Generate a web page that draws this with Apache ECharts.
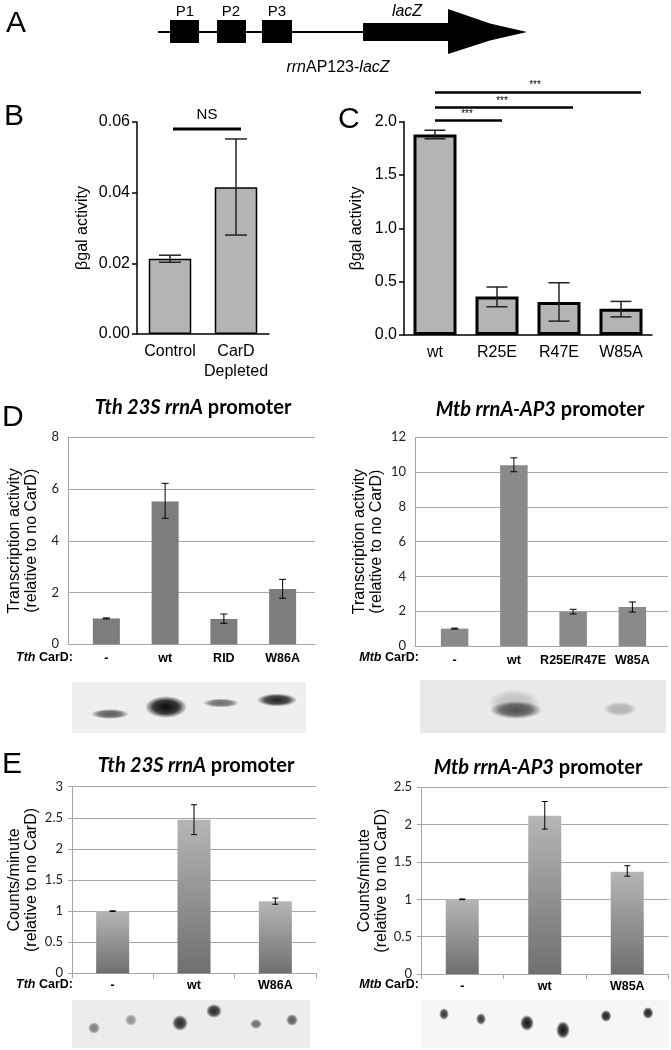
<!DOCTYPE html>
<html><head><meta charset="utf-8">
<script src="https://cdn.jsdelivr.net/npm/echarts@6/dist/echarts.min.js"></script>
<style>html,body{margin:0;padding:0;background:#fff}#c{width:671px;height:1050px}</style>
</head><body><div id="c"></div>
<script>
// ---------- DATA ----------
// Panel B
const bCats = ['Control', 'CarD\nDepleted'];
const bVals = [0.0213, 0.0415];
const bLo = [0.0203, 0.0280];
const bHi = [0.0223, 0.0552];
const bAxis = [0, 0.06, 0.02];
// Panel C
const cCats = ['wt', 'R25E', 'R47E', 'W85A'];
const cVals = [1.88, 0.36, 0.31, 0.245];
const cLo = [1.84, 0.265, 0.13, 0.17];
const cHi = [1.92, 0.45, 0.49, 0.315];
const cAxis = [0, 2, 0.5];
// Panel D left (Tth)
const dlCats = ['-', 'wt', 'RID', 'W86A'];
const dlVals = [1.0, 5.52, 0.98, 2.14];
const dlLo = [0.98, 4.87, 0.81, 1.78];
const dlHi = [1.02, 6.22, 1.17, 2.51];
const dlAxis = [0, 8, 2];
// Panel D right (Mtb)
const drCats = ['-', 'wt', 'R25E/R47E', 'W85A'];
const drVals = [1.0, 10.4, 1.97, 2.24];
const drLo = [0.97, 10.02, 1.84, 1.95];
const drHi = [1.03, 10.82, 2.11, 2.53];
const drAxis = [0, 12, 2];
// Panel E left (Tth)
const elCats = ['-', 'wt', 'W86A'];
const elVals = [1.0, 2.47, 1.16];
const elLo = [0.995, 2.23, 1.11];
const elHi = [1.005, 2.71, 1.21];
const elAxis = [0, 3, 0.5];
// Panel E right (Mtb)
const erCats = ['-', 'wt', 'W85A'];
const erVals = [1.0, 2.12, 1.37];
const erLo = [0.995, 1.94, 1.31];
const erHi = [1.005, 2.31, 1.45];
const erAxis = [0, 2.5, 0.5];

// ---------- HELPERS ----------
const ARIAL = '"Liberation Sans", Arial, sans-serif';
const CAL = 'Lato, "Open Sans", sans-serif';

function errSeries(idx, lo, hi, capW, color, lw) {
  return {
    type: 'custom', xAxisIndex: idx, yAxisIndex: idx, z: 10, silent: true,
    data: lo.map((l, i) => [i, l, hi[i]]),
    encode: { x: 0, y: [1, 2] },
    renderItem(params, api) {
      const x = api.value(0);
      const p1 = api.coord([x, api.value(1)]);
      const p2 = api.coord([x, api.value(2)]);
      const h = capW / 2;
      const st = { stroke: color, lineWidth: lw };
      return { type: 'group', children: [
        { type: 'line', shape: { x1: p1[0], y1: p1[1], x2: p2[0], y2: p2[1] }, style: st },
        { type: 'line', shape: { x1: p1[0] - h, y1: p1[1], x2: p1[0] + h, y2: p1[1] }, style: st },
        { type: 'line', shape: { x1: p2[0] - h, y1: p2[1], x2: p2[0] + h, y2: p2[1] }, style: st }
      ]};
    }
  };
}
const gridGray = '#a6a6a6';
const gradBar = { type: 'linear', x: 0, y: 0, x2: 0, y2: 1,
  colorStops: [{ offset: 0, color: '#b6b6b6' }, { offset: 1, color: '#6f6f6f' }] };

function blob(cx, cy, rx, ry, color, alpha) {
  return {
    type: 'circle', x: cx, y: cy, scaleX: rx / 10, scaleY: ry / 10,
    shape: { cx: 0, cy: 0, r: 10 }, silent: true,
    style: { fill: { type: 'radial', x: 0.5, y: 0.5, r: 0.5, colorStops: [
      { offset: 0, color: 'rgba(' + color + ',' + alpha + ')' },
      { offset: 0.6, color: 'rgba(' + color + ',' + (alpha * 0.8) + ')' },
      { offset: 1, color: 'rgba(' + color + ',0)' }] } }
  };
}
function txt(x, y, text, font, opts) {
  return Object.assign({ type: 'text', x: x, y: y, silent: true,
    style: Object.assign({ text: text, font: font, fill: '#000', textAlign: 'center', textVerticalAlign: 'middle' }, opts || {}) });
}
function hline(x1, x2, y, w) {
  return { type: 'line', silent: true, shape: { x1: x1, y1: y, x2: x2, y2: y }, style: { stroke: '#000', lineWidth: w } };
}

const grids = [
  { left: 137, top: 122, width: 132, height: 212 },        // 0 B
  { left: 404, top: 121.7, width: 248, height: 213.3 },    // 1 C
  { left: 68, top: 437.3, width: 247, height: 207 },       // 2 D-left bg
  { left: 77, top: 437.3, width: 235, height: 207 },       // 3 D-left fg
  { left: 415, top: 437.3, width: 253, height: 208.7 },    // 4 D-right bg
  { left: 425, top: 437.3, width: 237, height: 208.7 },    // 5 D-right fg
  { left: 72, top: 786.7, width: 244, height: 186.6 },     // 6 E-left
  { left: 421, top: 787.3, width: 247.5, height: 186.7 }   // 7 E-right
];

const boldCat = { fontFamily: ARIAL, fontWeight: 'bold', fontSize: 12.5, color: '#000', interval: 0 };
const yName2 = (t) => ({ name: t, nameLocation: 'middle', nameRotate: 90,
  nameTextStyle: { fontFamily: ARIAL, fontSize: 16, color: '#000', lineHeight: 17 } });

const xAxes = [
  { gridIndex: 0, type: 'category', data: bCats, axisLine: { lineStyle: { color: '#000', width: 1.5 } },
    axisTick: { show: false }, axisLabel: { interval: 0, fontFamily: ARIAL, fontSize: 16, color: '#000', margin: 8, lineHeight: 20 } },
  { gridIndex: 1, type: 'category', data: cCats, axisLine: { lineStyle: { color: '#000', width: 1.5 } },
    axisTick: { alignWithLabel: true, length: 4, lineStyle: { color: '#000', width: 1.5 } },
    axisLabel: { interval: 0, fontFamily: ARIAL, fontSize: 16, color: '#000', margin: 10 } },
  { gridIndex: 2, type: 'value', min: 0, max: 1, axisLine: { show: true, lineStyle: { color: gridGray } },
    axisTick: { show: false }, axisLabel: { show: false }, splitLine: { show: false } },
  { gridIndex: 3, type: 'category', data: dlCats, axisLine: { show: false }, axisTick: { show: false },
    axisLabel: Object.assign({ margin: 8 }, boldCat) },
  { gridIndex: 4, type: 'value', min: 0, max: 1, axisLine: { show: true, lineStyle: { color: gridGray } },
    axisTick: { show: false }, axisLabel: { show: false }, splitLine: { show: false } },
  { gridIndex: 5, type: 'category', data: drCats, axisLine: { show: false }, axisTick: { show: false },
    axisLabel: Object.assign({ margin: 8 }, boldCat) },
  { gridIndex: 6, type: 'category', data: elCats, axisLine: { lineStyle: { color: gridGray } },
    axisTick: { show: true, length: 5, lineStyle: { color: gridGray } }, axisLabel: Object.assign({ margin: 6 }, boldCat) },
  { gridIndex: 7, type: 'category', data: erCats, axisLine: { lineStyle: { color: gridGray } },
    axisTick: { show: true, length: 5, lineStyle: { color: gridGray } }, axisLabel: Object.assign({ margin: 6 }, boldCat) }
];

const calLab = { fontFamily: CAL, fontSize: 13, color: '#222', margin: 9 };
const yAxes = [
  Object.assign({ gridIndex: 0, type: 'value', min: bAxis[0], max: bAxis[1], interval: bAxis[2],
    axisLine: { show: true, lineStyle: { color: '#000', width: 1.5 } },
    axisTick: { show: true, length: 5, lineStyle: { color: '#000', width: 1.5 } },
    axisLabel: { fontFamily: ARIAL, fontSize: 16, color: '#000', margin: 7, formatter: v => v.toFixed(2) },
    splitLine: { show: false }, nameGap: 46 }, yName2('βgal activity')),
  Object.assign({ gridIndex: 1, type: 'value', min: cAxis[0], max: cAxis[1], interval: cAxis[2],
    axisLine: { show: true, lineStyle: { color: '#000', width: 1.5 } },
    axisTick: { show: true, length: 5, lineStyle: { color: '#000', width: 1.5 } },
    axisLabel: { fontFamily: ARIAL, fontSize: 16, color: '#000', margin: 7, formatter: v => v.toFixed(1) },
    splitLine: { show: false }, nameGap: 39 }, yName2('βgal activity')),
  Object.assign({ gridIndex: 2, type: 'value', min: dlAxis[0], max: dlAxis[1], interval: dlAxis[2],
    axisLine: { show: true, lineStyle: { color: gridGray } }, axisTick: { show: false },
    axisLabel: calLab, splitLine: { lineStyle: { color: gridGray } }, nameGap: 28 },
    yName2('Transcription activity\n(relative to no CarD)')),
  { gridIndex: 3, type: 'value', min: dlAxis[0], max: dlAxis[1], interval: dlAxis[2], show: false, splitLine: { show: false } },
  Object.assign({ gridIndex: 4, type: 'value', min: drAxis[0], max: drAxis[1], interval: drAxis[2],
    axisLine: { show: true, lineStyle: { color: gridGray } }, axisTick: { show: false },
    axisLabel: calLab, splitLine: { lineStyle: { color: gridGray } }, nameGap: 30 },
    yName2('Transcription activity\n(relative to no CarD)')),
  { gridIndex: 5, type: 'value', min: drAxis[0], max: drAxis[1], interval: drAxis[2], show: false, splitLine: { show: false } },
  Object.assign({ gridIndex: 6, type: 'value', min: elAxis[0], max: elAxis[1], interval: elAxis[2],
    axisLine: { show: true, lineStyle: { color: gridGray } }, axisTick: { show: true, length: 4, lineStyle: { color: gridGray } },
    axisLabel: calLab, splitLine: { lineStyle: { color: gridGray } }, nameGap: 32 },
    yName2('Counts/minute\n(relative to no CarD)')),
  Object.assign({ gridIndex: 7, type: 'value', min: erAxis[0], max: erAxis[1], interval: erAxis[2],
    axisLine: { show: true, lineStyle: { color: gridGray } }, axisTick: { show: true, length: 4, lineStyle: { color: gridGray } },
    axisLabel: calLab, splitLine: { lineStyle: { color: gridGray } }, nameGap: 30 },
    yName2('Counts/minute\n(relative to no CarD)'))
];

const series = [
  { type: 'bar', xAxisIndex: 0, yAxisIndex: 0, data: bVals, barWidth: 42.5,
    itemStyle: { color: '#b4b4b4', borderColor: '#000', borderWidth: 1.5 } },
  errSeries(0, bLo, bHi, 22, '#222', 1.5),
  { type: 'bar', xAxisIndex: 1, yAxisIndex: 1, data: cVals, barWidth: 43,
    itemStyle: { color: '#b4b4b4', borderColor: '#000', borderWidth: 3 } },
  errSeries(1, cLo, cHi, 21, '#222', 1.5),
  { type: 'bar', xAxisIndex: 3, yAxisIndex: 3, data: dlVals, barWidth: 27, itemStyle: { color: '#7d7d7d' } },
  errSeries(3, dlLo, dlHi, 7, '#000', 1),
  { type: 'bar', xAxisIndex: 5, yAxisIndex: 5, data: drVals, barWidth: 27.5, itemStyle: { color: '#8a8a8a' } },
  errSeries(5, drLo, drHi, 7, '#000', 1),
  { type: 'bar', xAxisIndex: 6, yAxisIndex: 6, data: elVals, barWidth: 33, itemStyle: { color: gradBar } },
  errSeries(6, elLo, elHi, 6, '#000', 1),
  { type: 'bar', xAxisIndex: 7, yAxisIndex: 7, data: erVals, barWidth: 33, itemStyle: { color: gradBar } },
  errSeries(7, erLo, erHi, 6, '#000', 1)
];

// ---------- GRAPHICS (diagram, annotations, gel images) ----------
const g = [];
// Panel letters
[['A', 6, 24], ['B', 4, 117], ['C', 338, 120], ['D', 2, 418], ['E', 2, 765]].forEach(p =>
  g.push(txt(p[1], p[2], p[0], '30px ' + ARIAL, { textAlign: 'left' })));
// Panel A diagram
g.push({ type: 'line', silent: true, shape: { x1: 158, y1: 32, x2: 365, y2: 32 }, style: { stroke: '#000', lineWidth: 2 } });
[[170, 199], [217, 246], [262, 292]].forEach(r =>
  g.push({ type: 'rect', silent: true, shape: { x: r[0], y: 20, width: r[1] - r[0], height: 23 }, style: { fill: '#000' } }));
g.push({ type: 'rect', silent: true, shape: { x: 363, y: 23, width: 86, height: 18 }, style: { fill: '#000' } });
g.push({ type: 'polygon', silent: true, shape: { points: [[448, 9], [490, 23.5], [527, 32], [490, 40.5], [448, 54]] }, style: { fill: '#000' } });
[['P1', 185], ['P2', 231], ['P3', 277]].forEach(p => g.push(txt(p[1], 12, p[0], '15px ' + ARIAL)));
g.push(txt(407, 12, 'lacZ', 'italic 16px ' + ARIAL));
g.push({ type: 'text', x: 338, y: 68, silent: true, style: {
  text: '{i|rrn}{n|AP123-}{i|lacZ}', textAlign: 'center', textVerticalAlign: 'middle',
  rich: { i: { font: 'italic 16px ' + ARIAL, fill: '#000' }, n: { font: '16px ' + ARIAL, fill: '#000' } } } });
// Panel B annotation
g.push(hline(173, 241, 129, 3));
g.push(txt(207, 115, 'NS', '15px ' + ARIAL));
// Panel C annotations
g.push(hline(435, 641, 92.5, 2.5));
g.push(txt(535, 85.5, '***', '10px ' + ARIAL));
g.push(hline(435, 573, 107.5, 2.5));
g.push(txt(502, 101, '***', '10px ' + ARIAL));
g.push(hline(435, 502, 120.5, 2.5));
g.push(txt(467, 114.5, '***', '10px ' + ARIAL));
// Titles D and E
function title(x, y, it, rest) {
  g.push({ type: 'text', x: x, y: y, silent: true, style: {
    text: '{i|' + it + '}{b| ' + rest + '}', textAlign: 'center', textVerticalAlign: 'middle',
    rich: { i: { font: 'italic bold 20px ' + CAL, fill: '#000' }, b: { font: 'bold 20px ' + CAL, fill: '#000' } } } });
}
title(193, 408, 'Tth 23S rrnA', 'promoter');
title(540, 410, 'Mtb rrnA-AP3', 'promoter');
title(196, 766, 'Tth 23S rrnA', 'promoter');
title(538, 768, 'Mtb rrnA-AP3', 'promoter');
// Row labels
function rowLab(x, y, sp) {
  g.push({ type: 'text', x: x, y: y, silent: true, style: {
    text: '{i|' + sp + '}{b| CarD:}', textAlign: 'right', textVerticalAlign: 'middle',
    rich: { i: { font: 'italic bold 12.5px ' + ARIAL, fill: '#000' }, b: { font: 'bold 12.5px ' + ARIAL, fill: '#000' } } } });
}
rowLab(73, 658, 'Tth');
rowLab(419, 658, 'Mtb');
rowLab(73, 985, 'Tth');
rowLab(419, 985, 'Mtb');
// Gel D left
g.push({ type: 'rect', silent: true, shape: { x: 72, y: 682, width: 234, height: 51 }, style: { fill: '#efefef' } });
g.push(blob(110, 714, 19, 5, '55,55,55', 0.8));
g.push(blob(166, 707, 21, 11, '10,10,10', 1));
g.push(blob(221, 703, 18, 4.5, '60,60,60', 0.75));
g.push(blob(277, 700, 20, 6.5, '25,25,25', 0.95));
// Gel D right
g.push({ type: 'rect', silent: true, shape: { x: 420, y: 680, width: 246, height: 53 }, style: { fill: '#e9e9e9' } });
g.push(blob(514, 703, 26, 14, '120,120,120', 0.35));
g.push(blob(516, 710, 26, 9, '60,60,60', 0.85));
g.push(blob(620, 709, 17, 7, '110,110,110', 0.45));
// Gel E left
g.push({ type: 'rect', silent: true, shape: { x: 72, y: 1000, width: 238, height: 48 }, style: { fill: '#ececec' } });
[[94, 1028, 6, 6, 0.55], [131, 1020, 6, 6, 0.45], [180, 1023, 8, 8, 0.95], [214, 1011, 8, 7, 0.95], [256, 1024, 6, 5, 0.65], [292, 1020, 6, 6, 0.7]]
  .forEach(d => g.push(blob(d[0], d[1], d[2], d[3], '30,30,30', d[4])));
// Gel E right
g.push({ type: 'rect', silent: true, shape: { x: 421, y: 1000, width: 248, height: 48 }, style: { fill: '#f6f6f6' } });
[[444, 1014, 5, 6, 0.85], [481, 1019, 5, 6, 0.85], [527, 1023, 7, 8, 1], [563, 1030, 7, 9, 1], [606, 1016, 5.5, 6, 0.95], [648, 1013, 5.5, 6, 0.95]]
  .forEach(d => g.push(blob(d[0], d[1], d[2], d[3], '20,20,20', d[4])));

const chart = echarts.init(document.getElementById('c'), null, { renderer: 'canvas' });
chart.setOption({
  animation: false,
  backgroundColor: '#fff',
  grid: grids,
  xAxis: xAxes,
  yAxis: yAxes,
  series: series,
  graphic: g
});
</script>
</body></html>
